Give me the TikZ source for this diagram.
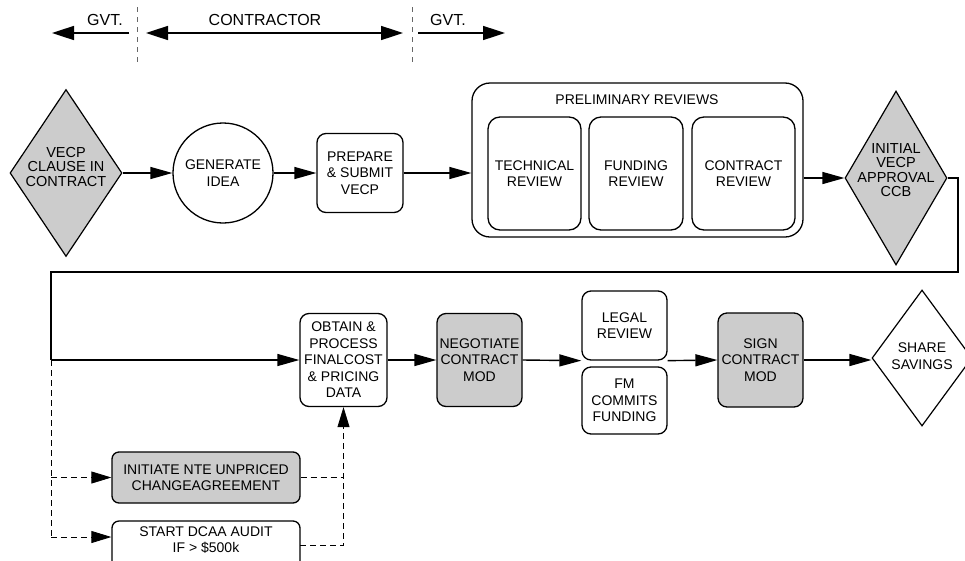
\documentclass[tikz,border=0pt]{standalone}
\usepackage{fontspec}
\setmainfont{Liberation Sans}
\usetikzlibrary{shapes.geometric,arrows.meta}
\tikzset{
  base/.style={draw, line width=1.3pt, inner sep=0pt, align=center, font=\fontsize{14}{16.5}\selectfont},
  box/.style={base, rounded corners=9pt},
  shaded/.style={fill=black!20},
  dia/.style={draw, line width=1.2pt, shape=diamond, inner sep=0pt},
  dtext/.style={align=center, inner sep=0pt, font=\fontsize{14.5}{14.5}\selectfont},
  stext/.style={align=center, inner sep=0pt, font=\fontsize{14}{17}\selectfont},
  btext/.style={align=center, inner sep=0pt, font=\fontsize{14}{16.5}\selectfont},
  arr/.style={line width=1.4pt, -{Triangle[length=22pt,width=12pt]}},
  mline/.style={line width=1.4pt},
  darr/.style={line width=0.8pt, dash pattern=on 6pt off 4pt, -{Triangle[length=20pt,width=12pt]}},
  dline/.style={line width=0.8pt, dash pattern=on 6pt off 4pt},
  toparr/.style={line width=1.6pt, -{Triangle[length=22pt,width=14pt]}},
  topdbl/.style={line width=1.6pt, {Triangle[length=22pt,width=14pt]}-{Triangle[length=22pt,width=14pt]}},
  vdash/.style={line width=0.7pt, dash pattern=on 5pt off 5pt, black!60},
  toplabel/.style={font=\fontsize{16}{18}\selectfont, inner sep=0pt},
}
\begin{document}
\begin{tikzpicture}[x=1pt,y=1pt]
\useasboundingbox (0,0) rectangle (965,-560);
\clip (0,0) rectangle (965,-560);

% ---------- top legend ----------
\node[toplabel] (lg1) at (105,-20) {GVT.};
\node[toplabel] (lc) at (265,-20) {CONTRACTOR};
\node[toplabel] (lg2) at (448,-20) {GVT.};
\coordinate (ga1) at (129,-33); \coordinate (ga2) at (52,-33);
\coordinate (ca1) at (146,-33); \coordinate (ca2) at (403,-33);
\coordinate (gb1) at (418,-33); \coordinate (gb2) at (505,-33);
\draw[toparr] (ga1) -- (ga2);
\draw[topdbl] (ca1) -- (ca2);
\draw[toparr] (gb1) -- (gb2);
\coordinate (v1a) at (137,-7); \coordinate (v1b) at (137,-63);
\coordinate (v2a) at (412,-7); \coordinate (v2b) at (412,-63);
\draw[vdash] (v1a) -- (v1b);
\draw[vdash] (v2a) -- (v2b);

% ---------- row 1 ----------
\node[dia, shaded, minimum width=112pt, minimum height=167pt] (d1) at (66,-173) {};
\node[dtext] (d1t) at (66,-167) {VECP\\CLAUSE IN\\CONTRACT};
\node[base, circle, minimum size=100pt] (gen) at (223,-173) {GENERATE\\IDEA};
\node[box, minimum width=86pt, minimum height=79pt] (prep) at (360,-173) {PREPARE\\\& SUBMIT\\VECP};
\node[box, rounded corners=18pt, minimum width=331pt, minimum height=154pt] (outer) at (637.5,-160) {};
\node[btext] (title) at (637,-100) {PRELIMINARY REVIEWS};
\node[box, rounded corners=12pt, minimum width=93pt, minimum height=113pt] (tech) at (534.5,-173.5) {TECHNICAL\\REVIEW};
\node[box, rounded corners=12pt, minimum width=94pt, minimum height=113pt] (fund) at (636,-173.5) {FUNDING\\REVIEW};
\node[box, rounded corners=12pt, minimum width=103pt, minimum height=113pt] (contr) at (743.5,-173.5) {CONTRACT\\REVIEW};
\node[dia, shaded, minimum width=102pt, minimum height=174pt] (d2) at (896,-178) {};
\node[dtext] (d2t) at (896,-170) {INITIAL\\VECP\\APPROVAL\\CCB};

\draw[arr] (d1.east) -- (gen.west);
\draw[arr] (gen.east) -- (prep.west);
\draw[arr] (prep.east) -- (prep.east -| outer.west);
\draw[arr] (outer.east |- d2.west) -- (d2.west);

% ---------- row 2 ----------
\node[box, minimum width=87pt, minimum height=93pt] (obtain) at (343.5,-360) {OBTAIN \&\\PROCESS\\FINALCOST\\\& PRICING\\DATA};
\node[box, shaded, minimum width=85pt, minimum height=93pt] (neg) at (479.5,-360) {NEGOTIATE\\CONTRACT\\MOD};
\node[box, minimum width=85pt, minimum height=69pt] (legal) at (624.5,-325.5) {LEGAL\\REVIEW};
\node[box, minimum width=85pt, minimum height=67pt] (fm) at (624.5,-400.5) {FM\\COMMITS\\FUNDING};
\node[box, shaded, minimum width=85pt, minimum height=94pt] (sign) at (760.5,-360) {SIGN\\CONTRACT\\MOD};
\node[dia, minimum width=100pt, minimum height=136pt] (share) at (922,-358) {};
\node[stext] (sharet) at (922,-356) {SHARE\\SAVINGS};

\node[box, shaded, rounded corners=7pt, minimum width=188pt, minimum height=51pt] (init) at (206,-477.5) {INITIATE NTE UNPRICED\\CHANGEAGREEMENT};
\node[box, rounded corners=7pt, minimum width=188pt, minimum height=60pt] (start) at (206,-551) {};
\node[btext] (startt) at (206,-540) {START DCAA AUDIT\\IF > \$500k};

% return path
\coordinate (r1) at (958,-272);
\coordinate (r2) at (51,-272);
\coordinate (r3) at (51,-360);
\draw[mline] (d2.east) -| (r1) -- (r2) -- (r3);
\draw[arr] (r3) -- (obtain.west);

\draw[arr] (obtain.east) -- (neg.west);
\draw[arr] (neg.east) -- (legal.south west);
\draw[arr] (legal.south east) -- (sign.west);
\draw[arr] (sign.east) -- (share.west |- sign.east);

% dashed branch
\coordinate (sl) at (51,-537);
\coordinate (sr) at (300,-545);
\draw[dline] (r3) -- (sl);
\draw[darr] (r3 |- init.west) -- (init.west);
\draw[darr] (sl) -- (sl -| start.west);
\draw[dline] (init.east) -- (init.east -| obtain.south);
\draw[darr] (sr) -| (obtain.south);
\end{tikzpicture}
\end{document}
